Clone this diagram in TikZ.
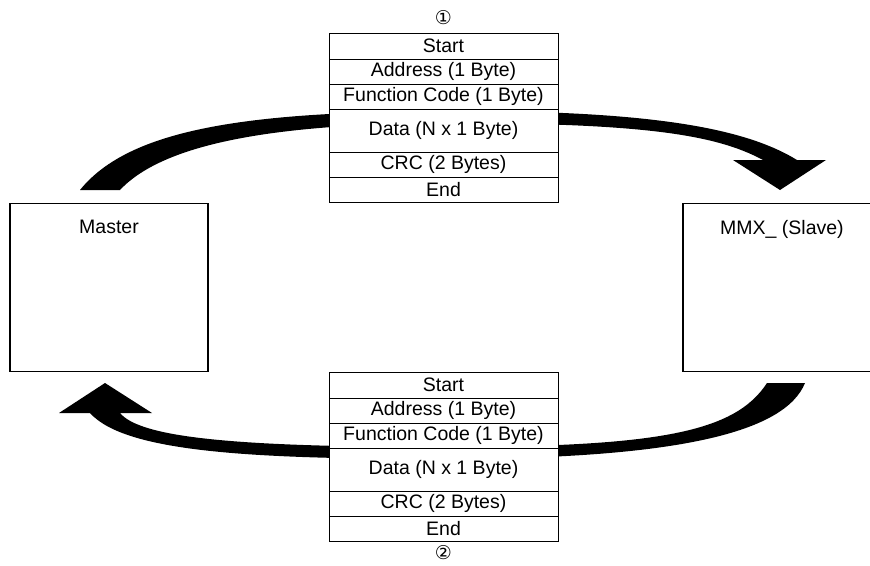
\documentclass[tikz,border=0pt]{standalone}
\usepackage{fontspec}
\setmainfont{Liberation Sans}
\newfontfamily\symfont{DejaVu Sans}
\usetikzlibrary{positioning}

\tikzset{
  rij/.style={draw, fill=white, line width=1pt, minimum width=229, inner sep=0pt, outer sep=0pt, font=\fontsize{19.5}{21}\selectfont},
  doos/.style={draw, line width=1.2pt, minimum width=198, minimum height=168, inner sep=0pt},
  tekst/.style={font=\fontsize{19.5}{21}\selectfont, inner sep=0pt},
  nummer/.style={font=\symfont\fontsize{19}{19}\selectfont, inner sep=0pt},
}

\begin{document}
\begin{tikzpicture}[x=1pt, y=-1pt]
  \useasboundingbox (0,0) rectangle (870,565);

  % Pijl boven: Master naar Slave
  \fill (80,190) .. controls (130,128) and (250,112) .. (443,111)
        .. controls (650,110) and (745,128) .. (797,160)
        -- (826,160) -- (780,190) -- (733,160) -- (763,160)
        .. controls (715,134) and (640,123) .. (443,123)
        .. controls (280,124) and (165,142) .. (120,190) -- cycle;

  % Pijl onder: Slave naar Master
  \fill (767,383) .. controls (735,432) and (660,447) .. (443,447)
        .. controls (230,447) and (140,437) .. (120,413)
        -- (152,413) -- (105,383) -- (59,413) -- (90,413)
        .. controls (125,452) and (250,459) .. (443,459)
        .. controls (680,459) and (785,432) .. (805,383) -- cycle;

  % Master en Slave
  \node[doos] (master) at (109,287.5) {};
  \node[tekst, below=17pt of master.north] (mastertxt) {Master};
  \node[doos] (slave) at (782,287.5) {};
  \node[tekst, below=17pt of slave.north] (slavetxt) {MMX\_ (Slave)};

  % Frame 1 (vraag)
  \node[rij, minimum height=26] (a1) at (443.5,46) {Start};
  \node[rij, minimum height=25, below=0pt of a1] (a2) {Address (1 Byte)};
  \node[rij, minimum height=25, below=0pt of a2] (a3) {Function Code (1 Byte)};
  \node[rij, minimum height=43, below=0pt of a3] (a4) {Data (N x 1 Byte)};
  \node[rij, minimum height=25, below=0pt of a4] (a5) {CRC (2 Bytes)};
  \node[rij, minimum height=25, below=0pt of a5] (a6) {End};
  \node[nummer, above=8pt of a1] (nr1) {①};

  % Frame 2 (antwoord)
  \node[rij, minimum height=26] (b1) at (443.5,385) {Start};
  \node[rij, minimum height=25, below=0pt of b1] (b2) {Address (1 Byte)};
  \node[rij, minimum height=25, below=0pt of b2] (b3) {Function Code (1 Byte)};
  \node[rij, minimum height=43, below=0pt of b3] (b4) {Data (N x 1 Byte)};
  \node[rij, minimum height=25, below=0pt of b4] (b5) {CRC (2 Bytes)};
  \node[rij, minimum height=25, below=0pt of b5] (b6) {End};
  \node[nummer, below=4pt of b6] (nr2) {②};

\end{tikzpicture}
\end{document}
